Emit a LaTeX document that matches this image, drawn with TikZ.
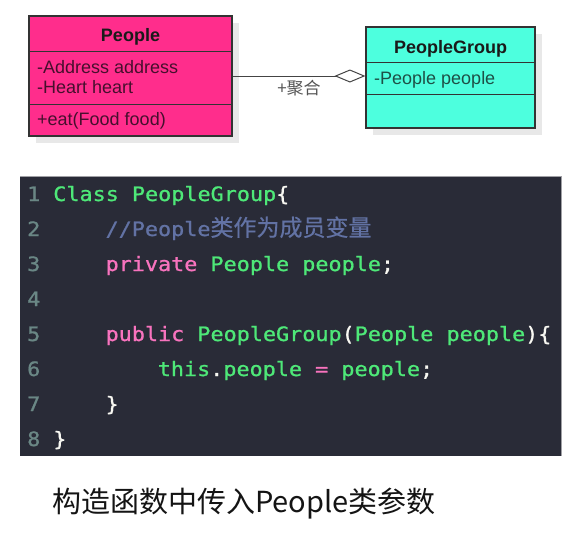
\documentclass[tikz,border=0pt]{standalone}
\usepackage{fontspec}
\setmainfont{Liberation Sans}
\newfontfamily\cjk{Noto Sans CJK SC}
\newfontfamily\codefont[FakeStretch=1.1,FakeBold=1]{DejaVu Sans Mono}
\newfontfamily\cjkcode[FakeBold=0.5]{Noto Sans CJK SC}
\usetikzlibrary{arrows.meta,shadows}
\definecolor{pinkfill}{RGB}{255,45,140}
\definecolor{aquafill}{RGB}{77,255,222}
\definecolor{boxdraw}{RGB}{51,51,51}
\definecolor{shadowc}{RGB}{232,232,232}
\definecolor{titlec}{RGB}{26,26,26}
\definecolor{pinktext}{RGB}{70,15,45}
\definecolor{aquatext}{RGB}{30,80,70}
\definecolor{connc}{RGB}{68,68,68}
\definecolor{labelc}{RGB}{85,85,85}
\definecolor{codebg}{RGB}{41,43,55}
\definecolor{codeborder}{RGB}{160,160,165}
\definecolor{lnum}{RGB}{106,135,133}
\definecolor{cgreen}{RGB}{78,232,120}
\definecolor{cpink}{RGB}{248,115,190}
\definecolor{ccomment}{RGB}{98,114,164}
\definecolor{cwhite}{RGB}{248,248,242}
\definecolor{captionc}{RGB}{20,20,20}
\tikzset{
  umlbox/.style={draw=boxdraw, line width=1.2pt, inner sep=0pt,
    drop shadow={shadow xshift=7pt, shadow yshift=-7pt, fill=shadowc, opacity=1}},
  divider/.style={draw=boxdraw, line width=1.2pt},
  titletext/.style={inner sep=0pt, anchor=base, font=\fontsize{18}{21}\selectfont\bfseries, text=titlec},
  attrtext/.style={inner sep=0pt, anchor=base west, font=\fontsize{18}{21}\selectfont},
  conn/.style={draw=connc, line width=1pt, -{Diamond[open, length=31pt, width=13pt, line width=1pt]}},
  lntext/.style={inner sep=0pt, anchor=base west, font=\fontsize{19.8}{22}\codefont, text=lnum},
  codetext/.style={inner sep=0pt, anchor=base west, font=\fontsize{19.8}{22}\codefont, text=cgreen},
}
\begin{document}
\begin{tikzpicture}[x=1pt, y=-1pt]
\useasboundingbox (0,0) rectangle (580,536);
% UML boxes
\node[umlbox, fill=pinkfill, minimum width=203pt, minimum height=120pt] (people) at (130.5,76) {};
\node[umlbox, fill=aquafill, minimum width=169pt, minimum height=101pt] (pg) at (450.5,77.5) {};
\draw[divider] ([yshift=-36pt]people.north west) -- ([yshift=-36pt]people.north east);
\draw[divider] ([yshift=-89pt]people.north west) -- ([yshift=-89pt]people.north east);
\draw[divider] ([yshift=-36pt]pg.north west) -- ([yshift=-36pt]pg.north east);
\draw[divider] ([yshift=-68pt]pg.north west) -- ([yshift=-68pt]pg.north east);
\node[titletext] (ptitle) at (130.5,41) {People};
\node[attrtext, text=pinktext] (pa1) at (37,73) {-Address address};
\node[attrtext, text=pinktext] (pa2) at (37,93) {-Heart heart};
\node[attrtext, text=pinktext] (pm1) at (37,125) {+eat(Food food)};
\node[titletext] (gtitle) at (450.5,53) {PeopleGroup};
\node[attrtext, text=aquatext] (ga1) at (374,84) {-People people};
% connector
\draw[conn] (people.east) -- (people.east -| pg.west);
\node[inner sep=0pt, anchor=base, text=labelc, font=\fontsize{17}{20}\cjk] (lbl) at (299,94) {+聚合};
% code block
\fill[codebg] (20,176) rectangle (561,456);
\draw[codeborder, line width=0.6pt] (20,176) -- (561,176) -- (561,456);
\node[lntext] (n1) at (27,201) {1};
\node[lntext] (n2) at (27,236) {2};
\node[lntext] (n3) at (27,271) {3};
\node[lntext] (n4) at (27,306) {4};
\node[lntext] (n5) at (27,341) {5};
\node[lntext] (n6) at (27,376) {6};
\node[lntext] (n7) at (27,411) {7};
\node[lntext] (n8) at (27,446) {8};
\node[codetext] (c1) at (53.1,201) {Class PeopleGroup\textcolor{cwhite}{\{}};
\node[codetext, text=ccomment] (c2) at (105.4,236) {//People{\cjkcode\fontsize{23}{24}\selectfont 类作为成员变量}};
\node[codetext] (c3) at (105.4,271) {\textcolor{cpink}{private} People people\textcolor{cwhite}{;}};
\node[codetext] (c5) at (105.4,341) {\textcolor{cpink}{public} PeopleGroup\textcolor{cwhite}{(}People people\textcolor{cwhite}{)\{}};
\node[codetext] (c6) at (157.6,376) {this\textcolor{cwhite}{.}people \textcolor{cpink}{=} people\textcolor{cwhite}{;}};
\node[codetext, text=cwhite] (c7) at (105.4,411) {\}};
\node[codetext, text=cwhite] (c8) at (53.1,446) {\}};
% caption
\node[inner sep=0pt, anchor=base west, text=captionc, font=\fontsize{29}{32}\cjk] (cap) at (52,512) {构造函数中传入People类参数};
\end{tikzpicture}
\end{document}
